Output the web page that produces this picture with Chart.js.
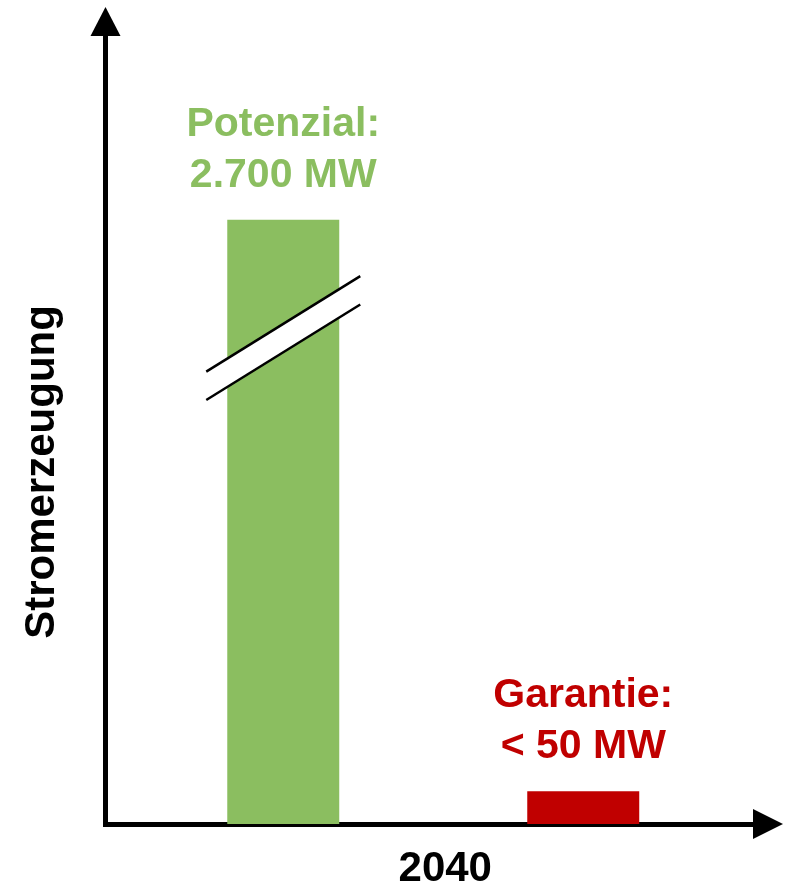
<!DOCTYPE html>
<html>
<head>
<meta charset="utf-8">
<script src="https://cdn.jsdelivr.net/npm/chart.js@4"></script>
<style>
  html, body { margin: 0; padding: 0; background: #fff; }
  canvas { display: block; }
</style>
</head>
<body>
<canvas id="myChart" width="794" height="883"></canvas>
<script>
// data
const categories = ['2040'];
const seriesNames = ['Potenzial', 'Garantie'];
const potenzialMW = [2700];
const garantieMW = [50];
const valueLabels = [['Potenzial:', '2.700 MW'], ['Garantie:', '< 50 MW']];
const axisBreak = [740, 2520]; // MW range cut out by the break mark
const yTitle = 'Stromerzeugung';
const yMax = 1200;

const FONT = '"Liberation Sans", Arial, sans-serif';
const GREEN = '#8bbe60';
const RED = '#c00000';

// values above the break get moved down by the cut out range
function squeeze(v) {
    return v > axisBreak[1] ? v - (axisBreak[1] - axisBreak[0]) : v;
}

const extras = {
    id: 'extras',
    afterDatasetsDraw(chart) {
        const ctx = chart.ctx;
        const yScale = chart.scales.y;
        ctx.save();
        chart.data.datasets.forEach((ds, i) => {
            const bar = chart.getDatasetMeta(i).data[0];
            const raw = ds.raw[0];

            // break mark on bars that cross the cut
            if (raw > axisBreak[1]) {
                const yb = yScale.getPixelForValue(axisBreak[0]);
                const half = 77, slope = 0.62, gap = 14.2;
                const x1 = bar.x - half, x2 = bar.x + half;
                ctx.fillStyle = '#fff';
                ctx.beginPath();
                ctx.moveTo(x1, yb + slope * half - gap);
                ctx.lineTo(x2, yb - slope * half - gap);
                ctx.lineTo(x2, yb - slope * half + gap);
                ctx.lineTo(x1, yb + slope * half + gap);
                ctx.closePath();
                ctx.fill();
                ctx.strokeStyle = '#000';
                ctx.lineWidth = 2.5;
                [-gap, gap].forEach(g => {
                    ctx.beginPath();
                    ctx.moveTo(x1, yb + slope * half + g);
                    ctx.lineTo(x2, yb - slope * half + g);
                    ctx.stroke();
                });
            }

            // value labels above the bars
            ctx.fillStyle = ds.backgroundColor;
            ctx.font = 'bold 41px ' + FONT;
            ctx.textAlign = 'center';
            ctx.textBaseline = 'alphabetic';
            const lines = valueLabels[i];
            lines.forEach((t, k) => {
                ctx.fillText(t, bar.x, bar.y - 33 - (lines.length - 1 - k) * 51);
            });
        });
        ctx.restore();
    },
    afterDraw(chart) {
        const ctx = chart.ctx;
        const a = chart.chartArea;
        ctx.save();
        ctx.fillStyle = '#000';
        // arrow heads
        ctx.beginPath();
        ctx.moveTo(a.left - 15, a.top);
        ctx.lineTo(a.left + 15, a.top);
        ctx.lineTo(a.left, a.top - 29);
        ctx.closePath();
        ctx.fill();
        ctx.beginPath();
        ctx.moveTo(a.right - 8, a.bottom - 15);
        ctx.lineTo(a.right - 8, a.bottom + 15);
        ctx.lineTo(a.right + 22, a.bottom);
        ctx.closePath();
        ctx.fill();

        // y axis title
        ctx.translate(53.5, 472);
        ctx.rotate(-Math.PI / 2);
        ctx.font = 'bold 42px ' + FONT;
        ctx.textAlign = 'center';
        ctx.textBaseline = 'alphabetic';
        ctx.fillText(yTitle, 0, 0);
        ctx.restore();
    }
};

new Chart(document.getElementById('myChart'), {
    type: 'bar',
    data: {
        labels: categories,
        datasets: [
            { label: seriesNames[0], raw: potenzialMW, data: potenzialMW.map(squeeze), backgroundColor: GREEN },
            { label: seriesNames[1], raw: garantieMW, data: garantieMW.map(squeeze), backgroundColor: RED }
        ]
    },
    options: {
        responsive: false,
        animation: false,
        devicePixelRatio: 1,
        layout: { padding: { left: 105.5, top: 36, right: 33, bottom: -31 } },
        datasets: { bar: { categoryPercentage: 0.9153, barPercentage: 0.3733 } },
        plugins: { legend: { display: false }, tooltip: { enabled: false } },
        scales: {
            x: {
                z: 1,
                grid: { display: false, drawTicks: false },
                border: { display: true, color: '#000', width: 5 },
                ticks: {
                    color: '#000',
                    padding: 24,
                    labelOffset: 12,
                    font: { family: FONT, size: 42, weight: 'bold', lineHeight: 1 }
                }
            },
            y: {
                z: 1,
                min: 0,
                max: yMax,
                grid: { display: false, drawTicks: false },
                border: { display: true, color: '#000', width: 5 },
                ticks: { display: false }
            }
        }
    },
    plugins: [extras]
});
</script>
</body>
</html>
